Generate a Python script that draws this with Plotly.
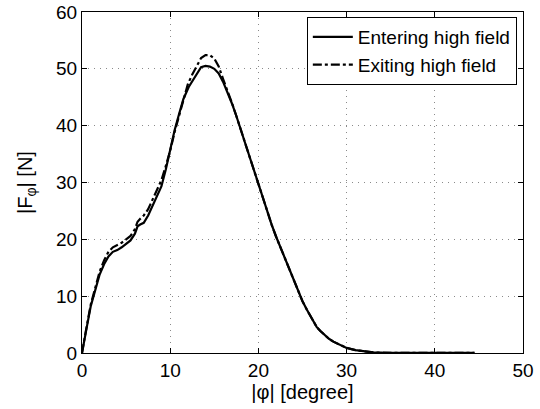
import plotly.graph_objects as go

phi_enter = [0, 0.25, 0.5, 1, 1.5, 2, 2.5, 3, 3.5, 4, 4.5, 5, 5.5, 6, 6.3, 6.6, 7, 7.5, 8, 8.5,
             9, 9.5, 10, 10.5, 11, 11.5, 12.1, 12.5, 13, 13.5, 14, 14.5, 15, 15.5, 16, 16.5,
             17, 17.5, 18, 18.5, 19, 19.5, 20, 20.5, 21, 21.5, 22, 22.5, 23, 23.5, 24, 24.5,
             25, 25.5, 26, 26.6, 27, 27.5, 28, 28.5, 29, 29.5, 30, 31, 32, 33, 34, 35, 36, 38,
             40, 42, 44.5]
F_enter = [0, 2.5, 4.2, 8.3, 11.2, 13.8, 15.6, 17.0, 17.8, 18.1, 18.6, 19.2, 19.8, 21.0, 22.3,
           22.6, 22.9, 24.2, 26.0, 27.6, 29.3, 32.3, 35.8, 39.2, 42.0, 44.7, 46.8, 47.8, 49.0,
           50.3, 50.5, 50.4, 50.0, 49.2, 47.7, 45.9, 43.9, 41.7, 39.3, 37.0, 34.6, 32.0, 29.4,
           27.2, 25.0, 22.6, 20.5, 18.6, 16.7, 15.0, 13.2, 11.1, 9.1, 7.6, 6.2, 4.6, 3.9, 3.2,
           2.5, 2.0, 1.6, 1.2, 0.9, 0.5, 0.24, 0.1, 0.05, 0.03, 0.02, 0.01, 0.01, 0.01, 0.01]

phi_exit = [0, 0.25, 0.5, 1, 1.5, 2, 2.5, 3, 3.5, 4, 4.5, 5, 5.5, 6, 6.3, 6.6, 7, 7.5, 8, 8.5,
            9, 9.5, 10, 10.5, 11, 11.5, 12, 12.5, 13, 13.5, 14, 14.5, 15, 15.5, 16, 16.5,
            17, 17.5, 18, 18.5, 19, 19.5, 20, 20.5, 21, 21.5, 22, 22.5, 23, 23.5, 24, 24.5,
            25, 25.5, 26, 26.6, 27, 27.5, 28, 28.5, 29, 29.5, 30, 31, 32, 33, 34, 35, 36, 38,
            40, 42, 44.5]
F_exit = [0, 2.6, 4.4, 8.6, 11.6, 14.3, 16.3, 17.8, 18.6, 19.0, 19.4, 20.0, 20.6, 21.8, 23.1,
          23.6, 24.2, 25.3, 26.9, 28.5, 30.4, 32.9, 35.6, 38.9, 41.8, 44.8, 47.3, 49.0, 50.6,
          51.9, 52.4, 52.4, 51.8, 50.4, 48.2, 46.2, 44.0, 41.7, 39.3, 37.0, 34.6, 32.0, 29.4,
          27.2, 25.0, 22.6, 20.5, 18.6, 16.7, 15.0, 13.2, 11.1, 9.1, 7.6, 6.2, 4.6, 3.9, 3.2,
          2.5, 2.0, 1.6, 1.2, 0.9, 0.5, 0.24, 0.1, 0.05, 0.03, 0.02, 0.01, 0.01, 0.01, 0.01]

x_ticks = [0, 10, 20, 30, 40, 50]
y_ticks = [0, 10, 20, 30, 40, 50, 60]

fig = go.Figure()
fig.add_trace(go.Scatter(x=phi_enter, y=F_enter, mode="lines", name="Entering high field",
                         line=dict(color="black", width=2.2, dash="solid")))
fig.add_trace(go.Scatter(x=phi_exit, y=F_exit, mode="lines", name="Exiting high field",
                         line=dict(color="black", width=2.2, dash="dashdot")))

font = "Liberation Sans, Arial, Helvetica, sans-serif"
axis_common = dict(showgrid=True, gridcolor="#8a8a8a", griddash="1px,5px", gridwidth=1,
                   showline=True, linecolor="black", linewidth=1, mirror="ticks",
                   ticks="inside", ticklen=5, tickcolor="black", zeroline=False,
                   automargin=False, ticklabeloverflow="allow",
                   tickfont=dict(family=font, size=19, color="black"))

fig.update_xaxes(range=[0, 50], tickvals=x_ticks,
                 title=dict(text="|\u03c6| [degree]", font=dict(family=font, size=20, color="black"),
                            standoff=2),
                 **axis_common)
fig.update_yaxes(range=[0, 60], tickvals=y_ticks,
                 title=dict(text="|F<sub>\u03c6</sub>| [N]", font=dict(family=font, size=20, color="black"),
                            standoff=18),
                 **axis_common)

fig.update_layout(
    width=540, height=409,
    margin=dict(l=82, r=17, t=12, b=56),
    paper_bgcolor="white", plot_bgcolor="white",
    showlegend=True,
    legend=dict(x=0.986, y=0.985, xanchor="right", yanchor="top",
                bgcolor="white", bordercolor="black", borderwidth=1,
                font=dict(family=font, size=19, color="black"),
                tracegroupgap=0, itemwidth=40),
)

fig.write_html("out.html", config={"displayModeBar": False},
               post_script="document.body.style.margin='0px';document.body.style.overflow='hidden';")
